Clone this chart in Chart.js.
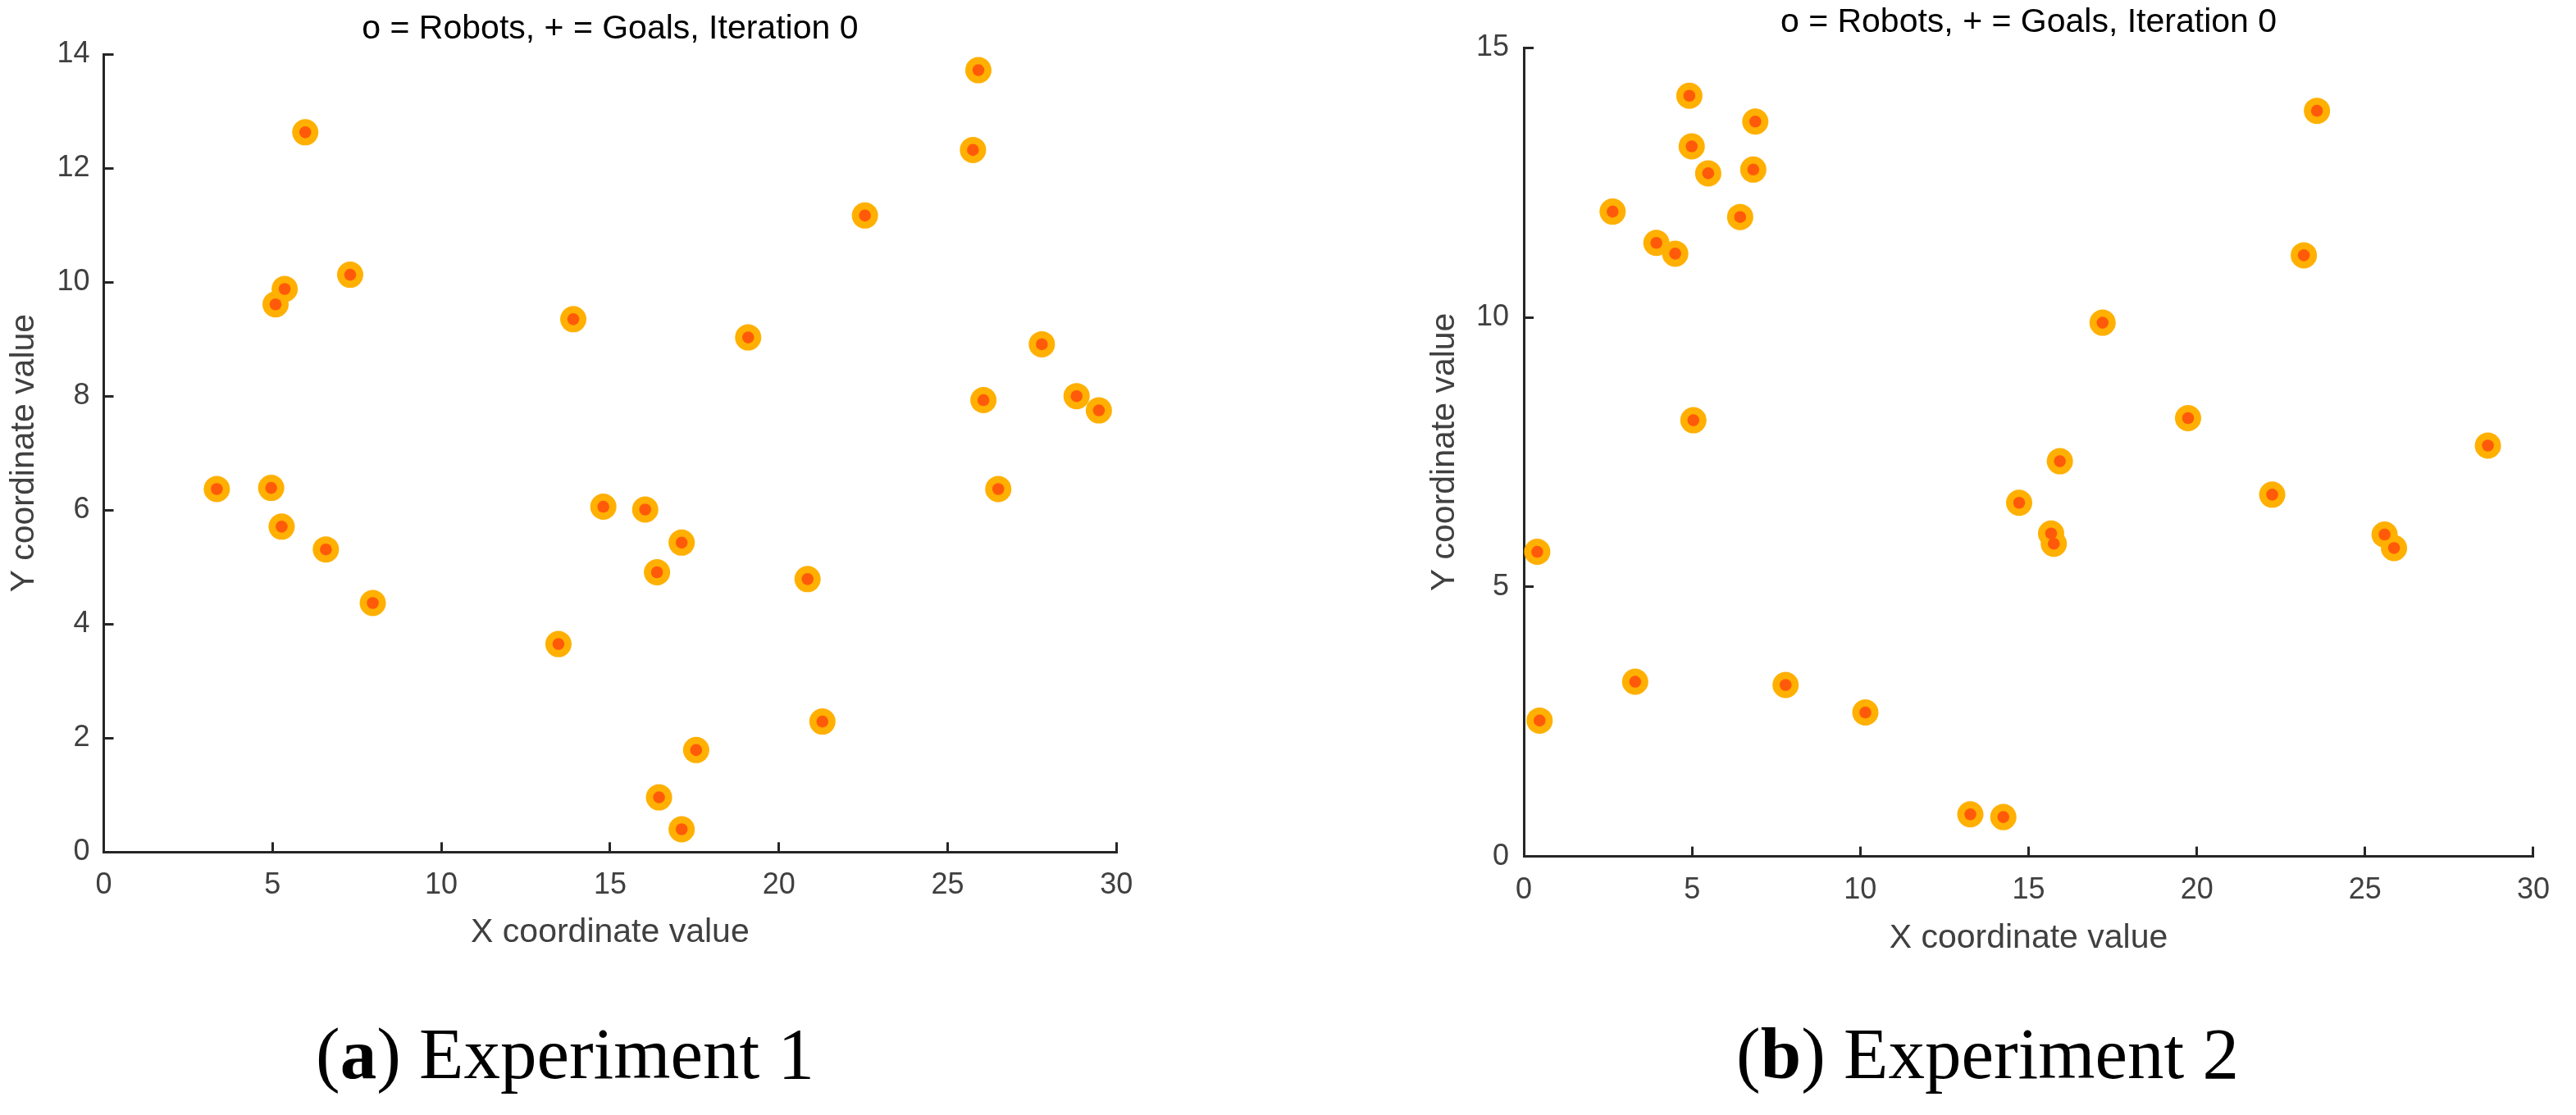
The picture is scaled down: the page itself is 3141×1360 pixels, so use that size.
<!DOCTYPE html>
<html><head><meta charset="utf-8">
<script src="https://cdn.jsdelivr.net/npm/chart.js@4.4.1/dist/chart.umd.min.js"></script>
<style>
html,body{margin:0;padding:0;background:#fff;width:3141px;height:1360px;overflow:hidden;position:relative}
canvas{position:absolute}
.cap{position:absolute;font-family:'Liberation Serif','Times New Roman',serif;font-size:89px;line-height:89px;color:#000;white-space:nowrap}
</style></head><body>
<canvas id="c1" width="1420" height="1180" style="left:0;top:0;width:1420px;height:1180px"></canvas>
<canvas id="c2" width="1441" height="1180" style="left:1700px;top:0;width:1441px;height:1180px"></canvas>
<div class="cap" style="left:385px;top:1241px">(<b>a</b>) Experiment 1</div>
<div class="cap" style="left:2117px;top:1241px">(<b>b</b>) Experiment 2</div>
<script>
// ---- data ----
const chartTitle = 'o = Robots, + = Goals, Iteration 0';
const xAxisTitle = 'X coordinate value';
const yAxisTitle = 'Y coordinate value';

const xTicks = [0, 5, 10, 15, 20, 25, 30];
const yTicks1 = [0, 2, 4, 6, 8, 10, 12, 14];
const yTicks2 = [0, 5, 10, 15];

const exp1X = [3.35, 4.96, 5.27, 6.58, 7.97, 5.09, 5.36, 5.97, 7.30, 13.47, 13.91, 14.80, 16.04, 17.12, 16.39, 16.45, 17.12, 17.55, 19.09, 20.85, 21.29, 22.55, 25.75, 25.91, 26.06, 26.50, 27.79, 28.82, 29.48];
const exp1Y = [6.37, 6.39, 5.71, 5.31, 4.37, 9.61, 9.88, 12.63, 10.13, 3.65, 9.35, 6.06, 6.01, 5.43, 4.91, 0.96, 0.40, 1.79, 9.03, 4.79, 2.29, 11.17, 12.32, 13.72, 7.93, 6.37, 8.91, 8.00, 7.75];

const exp2X = [0.40, 0.47, 2.64, 3.31, 3.94, 4.50, 4.92, 4.99, 5.04, 5.48, 6.43, 6.82, 6.88, 7.78, 10.15, 13.27, 14.25, 14.72, 15.67, 15.75, 15.93, 17.20, 19.74, 22.24, 23.18, 23.57, 25.58, 25.86, 28.65];
const exp2Y = [5.65, 2.52, 11.96, 3.24, 11.38, 11.18, 14.11, 13.17, 8.09, 12.67, 11.86, 12.74, 13.63, 3.18, 2.67, 0.78, 0.73, 6.56, 5.99, 5.80, 7.33, 9.90, 8.13, 6.71, 11.15, 13.83, 5.97, 5.72, 7.62];

// ---- rendering ----
const FAMILY = "'Liberation Sans', Arial, sans-serif";
const AXIS = '#262626';
const TXT = '#404040';

function makeChart(id, xs, ys, yTicks, g) {
  const pts = xs.map((x, i) => ({x: x, y: ys[i]}));
  return new Chart(document.getElementById(id), {
    type: 'scatter',
    data: {
      datasets: [
        {label: 'Goals', data: pts, pointStyle: 'circle', pointRadius: 7.3, pointBackgroundColor: '#FF5A0A', pointBorderWidth: 0, borderWidth: 0, clip: false},
        {label: 'Robots', data: pts, pointStyle: 'circle', pointRadius: 16, pointBackgroundColor: '#FFB000', pointBorderWidth: 0, borderWidth: 0, clip: false}
      ]
    },
    options: {
      responsive: false,
      animation: false,
      devicePixelRatio: 1,
      events: [],
      layout: {padding: {left: 0, top: 0, right: g.padR, bottom: 0}},
      plugins: {
        legend: {display: false},
        tooltip: {enabled: false},
        title: {
          display: true, text: chartTitle, fullSize: false, color: '#000',
          font: {family: FAMILY, size: 41, weight: 'normal', lineHeight: 1.2},
          padding: {top: g.tPt, bottom: g.tPb}
        }
      },
      scales: {
        x: {
          type: 'linear', position: 'bottom', min: 0, max: 30,
          afterBuildTicks: s => { s.ticks = xTicks.map(v => ({value: v})); },
          afterFit: s => { s.height = g.xH; },
          border: {display: true, color: AXIS, width: 3},
          grid: {display: true, drawOnChartArea: false, drawTicks: true, tickLength: -12, tickWidth: 3, tickColor: AXIS, color: AXIS},
          ticks: {font: {family: FAMILY, size: 36, lineHeight: 1.2}, color: TXT, padding: g.xPad, maxRotation: 0, autoSkip: false},
          title: {display: true, text: xAxisTitle, color: TXT, font: {family: FAMILY, size: 41, lineHeight: 1.2}, padding: {top: 0, bottom: g.xtPb}}
        },
        y: {
          type: 'linear', position: 'left', min: yTicks[0], max: yTicks[yTicks.length - 1],
          afterBuildTicks: s => { s.ticks = yTicks.map(v => ({value: v})); },
          afterFit: s => { s.width = g.yW; },
          border: {display: true, color: AXIS, width: 3},
          grid: {display: true, drawOnChartArea: false, drawTicks: true, tickLength: -12, tickWidth: 3, tickColor: AXIS, color: AXIS},
          ticks: {font: {family: FAMILY, size: 36, lineHeight: 1.2}, color: TXT, padding: g.yPad, autoSkip: false},
          title: {display: true, text: yAxisTitle, color: TXT, font: {family: FAMILY, size: 41, lineHeight: 1.2}, padding: {top: g.ytPt, bottom: 0}}
        }
      }
    }
  });
}

makeChart('c1', exp1X, exp1Y, yTicks1, {padR: 58.7, tPt: 11.4, tPb: 5.5, xH: 140.7, yW: 126.5, xPad: 31, yPad: 29, xtPb: 18.1, ytPt: 5.5});
makeChart('c2', exp2X, exp2Y, yTicks2, {padR: 30.7, tPt: 3.4, tPb: 5.6, xH: 135.4, yW: 158, xPad: 32, yPad: 30, xtPb: 11.1, ytPt: 36.6});
</script>
</body></html>
